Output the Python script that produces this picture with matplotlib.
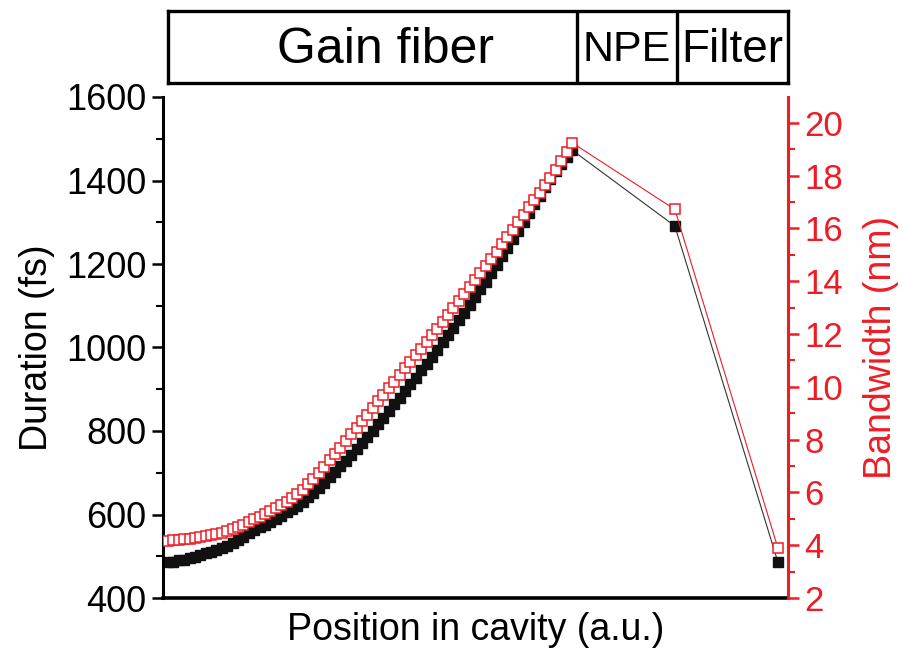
import numpy as np
import matplotlib
matplotlib.use('Agg')
import matplotlib.pyplot as plt
from matplotlib.ticker import MultipleLocator

plt.rcParams['font.family'] = ['Liberation Sans', 'DejaVu Sans']

# position along the cavity (gain fiber samples, then NPE and filter outputs)
gain_pos = list(range(76))
npe_pos = 94.1
filter_pos = 113.2

# pulse duration (fs) in the gain fiber
duration_gain = [486, 487, 490, 492, 495, 499, 503, 507, 511, 515,
                 520, 525, 531, 538, 546, 555, 562, 569, 576, 583,
                 590, 597, 605, 613, 621, 630, 641, 652, 664, 676,
                 689, 702, 715, 729, 743, 757, 771, 786, 801, 816,
                 832, 848, 864, 880, 896, 912, 928, 945, 961, 978,
                 995, 1012, 1029, 1047, 1065, 1083, 1101, 1120, 1139, 1158,
                 1178, 1198, 1218, 1238, 1259, 1280, 1301, 1322, 1343, 1364,
                 1385, 1404, 1422, 1439, 1456, 1473]
duration_npe = 1291
duration_filter = 487

# spectral bandwidth (nm) in the gain fiber
bandwidth_gain = [4.16, 4.18, 4.20, 4.22, 4.25, 4.28, 4.31, 4.35, 4.39, 4.43,
                  4.48, 4.54, 4.61, 4.69, 4.78, 4.88, 4.98, 5.08, 5.18, 5.29,
                  5.40, 5.52, 5.65, 5.79, 5.93, 6.10, 6.30, 6.52, 6.75, 6.98,
                  7.22, 7.46, 7.70, 7.95, 8.20, 8.45, 8.70, 8.95, 9.20, 9.45,
                  9.70, 9.95, 10.20, 10.45, 10.70, 10.95, 11.20, 11.45, 11.70, 11.95,
                  12.20, 12.46, 12.72, 12.98, 13.24, 13.50, 13.77, 14.04, 14.31, 14.58,
                  14.85, 15.12, 15.40, 15.68, 15.96, 16.24, 16.52, 16.80, 17.08, 17.36,
                  17.64, 17.93, 18.23, 18.55, 18.89, 19.25]
bandwidth_npe = 16.72
bandwidth_filter = 3.91

sections = ['Gain fiber', 'NPE', 'Filter']

x_all = gain_pos + [npe_pos, filter_pos]
dur_all = duration_gain + [duration_npe, duration_filter]
bw_all = bandwidth_gain + [bandwidth_npe, bandwidth_filter]

red = '#ee1c25'

fig = plt.figure(figsize=(9.04, 6.61), dpi=100)
ax = fig.add_axes([163 / 904, 63 / 661, 625 / 904, 501 / 661])

ax.plot(x_all, dur_all, color='#333333', lw=0.8, marker='s', ms=6.5,
        mfc='#111111', mec='#111111', zorder=2)
ax.set_xlim(-0.93, 115.1)
ax.set_ylim(400, 1600)
ax.yaxis.set_major_locator(MultipleLocator(200))
ax.yaxis.set_minor_locator(MultipleLocator(100))
ax.set_xticks([])
ax.tick_params(axis='y', which='major', length=8, width=1.8, labelsize=26, pad=4)
ax.tick_params(axis='y', which='minor', length=5, width=1.5)
ax.spines['top'].set_visible(False)
ax.spines['right'].set_visible(False)
ax.spines['left'].set_linewidth(2.2)
ax.spines['bottom'].set_linewidth(2.6)
ax.set_ylabel('Duration (fs)', fontsize=27, labelpad=8)
ax.set_xlabel('Position in cavity (a.u.)', fontsize=27, labelpad=10)

ax2 = ax.twinx()
ax2.plot(x_all, bw_all, color=red, lw=0.8, marker='s', ms=7.5,
         mfc='white', mec=red, mew=1.1, zorder=3)
ax2.set_ylim(2, 20.98)
ax2.yaxis.set_major_locator(MultipleLocator(2))
ax2.yaxis.set_minor_locator(MultipleLocator(1))
ax2.tick_params(axis='y', which='major', length=8, width=1.8, labelsize=25,
                colors=red, pad=4)
ax2.tick_params(axis='y', which='minor', length=5, width=1.5, colors=red)
for s in ['top', 'left', 'bottom']:
    ax2.spines[s].set_visible(False)
ax2.spines['right'].set_color(red)
ax2.spines['right'].set_linewidth(2.2)
ax2.set_ylabel('Bandwidth (nm)', fontsize=27, color=red, labelpad=14)

# section box above the plot
box = fig.add_axes([168 / 904, (661 - 83) / 661, 620 / 904, 72 / 661])
box.set_xlim(168, 788)
box.set_ylim(0, 1)
box.set_xticks([])
box.set_yticks([])
for s in box.spines.values():
    s.set_linewidth(2.4)
edges = [168, 577, 677, 788]
for e in edges[1:-1]:
    box.axvline(e, color='black', lw=2.4)
sizes = [36, 31, 33]
centers = [386, 627, 732]
for i, name in enumerate(sections):
    box.text(centers[i], 0.46, name, ha='center', va='center', fontsize=sizes[i])

fig.savefig('out.png', dpi=100)
